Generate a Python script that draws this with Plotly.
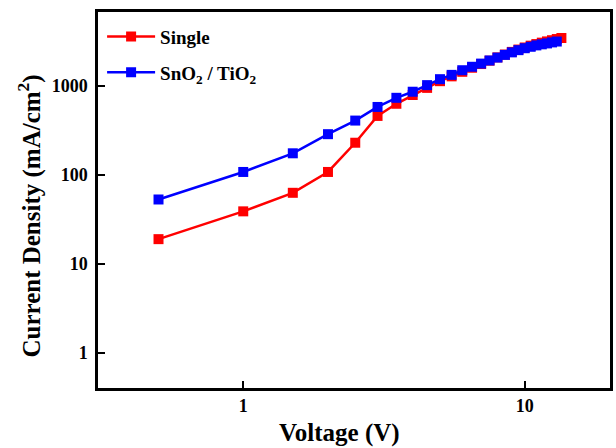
import plotly.graph_objects as go

# Current density vs. voltage (log-log), two device structures
voltage_single = [0.5, 1.0, 1.5, 2.0, 2.5, 3.0, 3.5, 4.0, 4.5, 5.0, 5.5, 6.0, 6.5, 7.0,
                  7.5, 8.0, 8.5, 9.0, 9.5, 10.0, 10.5, 11.0, 11.5, 12.0, 12.5, 13.0, 13.5]
current_single = [19, 39, 63, 108, 230, 460, 630, 790, 950, 1130, 1280, 1440, 1600, 1760,
                  1920, 2090, 2250, 2410, 2560, 2700, 2830, 2950, 3060, 3160, 3260, 3360, 3450]

voltage_bilayer = [0.5, 1.0, 1.5, 2.0, 2.5, 3.0, 3.5, 4.0, 4.5, 5.0, 5.5, 6.0, 6.5,
                   7.0, 7.5, 8.0, 8.5, 9.0, 9.5, 10.0, 10.5, 11.0, 11.5, 12.0, 12.5, 13.0]
current_bilayer = [53, 108, 175, 287, 408, 580, 735, 860, 1020, 1190, 1330, 1500, 1640,
                   1780, 1930, 2080, 2230, 2380, 2520, 2650, 2750, 2850, 2930, 3000, 3080, 3150]

x_ticks = [1, 10]
x_tick_labels = ["1", "10"]
y_ticks = [1, 10, 100, 1000]
y_tick_labels = ["1", "10", "100", "1000"]

FONT = "Liberation Serif"

fig = go.Figure()
fig.add_trace(go.Scatter(
    x=voltage_single, y=current_single, mode="lines+markers", name="Single",
    legendgroup="single",
    line=dict(color="#ff0000", width=2.5),
    marker=dict(symbol="square", size=10, color="#ff0000"),
))
fig.add_trace(go.Scatter(
    x=voltage_bilayer, y=current_bilayer, mode="lines+markers",
    name="SnO<sub>2</sub> / TiO<sub>2</sub>", legendgroup="bilayer",
    line=dict(color="#0000ff", width=2.5),
    marker=dict(symbol="square", size=10, color="#0000ff"),
))

axis_common = dict(
    type="log", showgrid=False, zeroline=False,
    showline=True, linecolor="black", linewidth=2.5, mirror=True,
    ticks="inside", ticklen=7, tickwidth=2, tickcolor="black",
    tickfont=dict(family=FONT, size=18, color="black", weight="bold"),
)

fig.update_layout(
    width=616, height=448,
    margin=dict(l=98, r=3, t=12, b=60),
    paper_bgcolor="white", plot_bgcolor="white",
    font=dict(family=FONT, color="black"),
    showlegend=True,
    legend=dict(
        x=0.008, y=0.985, xanchor="left", yanchor="top",
        bgcolor="rgba(0,0,0,0)",
        font=dict(family=FONT, size=19, color="black", weight="bold"),
        itemwidth=48, tracegroupgap=8,
    ),
    xaxis=dict(
        axis_common,
        range=[-0.516, 1.303],
        tickvals=x_ticks, ticktext=x_tick_labels,
    ),
    yaxis=dict(
        axis_common,
        range=[-0.393, 3.83],
        tickvals=y_ticks, ticktext=y_tick_labels,
        ticklabelstandoff=4,
    ),
    annotations=[
        dict(text="<b>Voltage (V)</b>", xref="paper", yref="paper",
             x=0.472, y=-0.12, xanchor="center", yanchor="middle",
             showarrow=False, font=dict(family=FONT, size=25, color="black")),
        dict(text="<b>Current Density (mA/cm<sup>2</sup>)</b>", xref="paper", yref="paper",
             x=-0.134, y=0.457, xanchor="center", yanchor="middle", textangle=-90,
             showarrow=False, font=dict(family=FONT, size=25, color="black")),
    ],
)

fig.write_html("out.html")
